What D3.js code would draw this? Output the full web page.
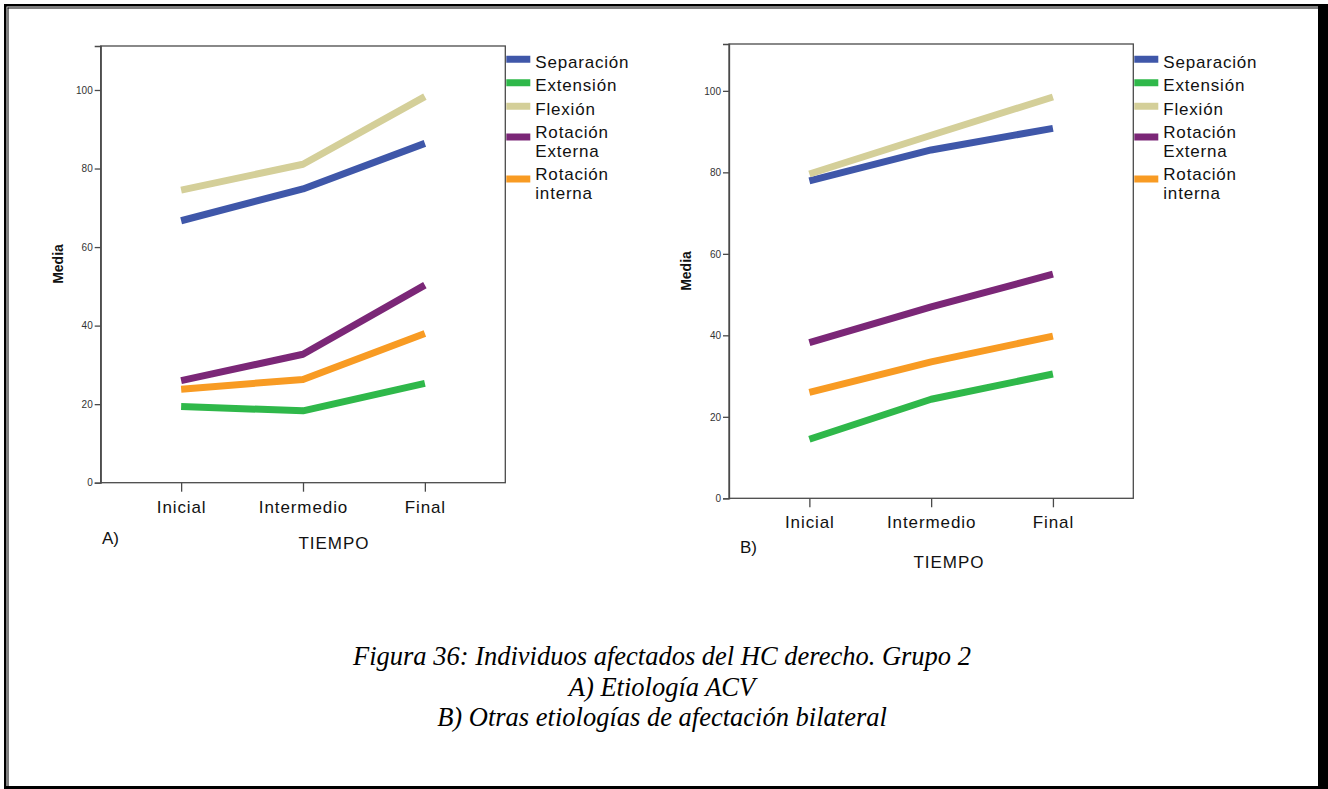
<!DOCTYPE html>
<html>
<head>
<meta charset="utf-8">
<script src="https://cdn.jsdelivr.net/npm/d3@7"></script>
<style>
  html, body { margin: 0; padding: 0; background: #fff; }
  svg { display: block; }
  .tick text { font-family: Arial, "Liberation Sans", sans-serif; }
</style>
</head>
<body>
<svg id="fig" width="1328" height="789"></svg>
<script>
// Time points and measured movements
const tiempos = ["Inicial", "Intermedio", "Final"];
const movimientos = ["Separación", "Extensión", "Flexión", "Rotación Externa", "Rotación interna"];
const colores = ["#3F57A9", "#2FB84A", "#D4CF99", "#7B2777", "#F89B23"];
const yTicks = [0, 20, 40, 60, 80, 100];

// A) Etiología ACV — mean per time point
const acvSeparacion  = [66.7, 74.8, 86.4];
const acvExtension   = [19.4, 18.3, 25.3];
const acvFlexion     = [74.5, 81.1, 98.3];
const acvRotExterna  = [26.0, 32.7, 50.3];
const acvRotInterna  = [23.8, 26.3, 38.0];

// B) Otras etiologías de afectación bilateral — mean per time point
const otrasSeparacion = [77.9, 85.5, 90.8];
const otrasExtension  = [14.5, 24.3, 30.5];
const otrasFlexion    = [79.6, 89.1, 98.5];
const otrasRotExterna = [38.2, 47.0, 55.0];
const otrasRotInterna = [26.0, 33.5, 39.8];

const captionLines = [
  "Figura 36: Individuos afectados del HC derecho. Grupo 2",
  "A) Etiología ACV",
  "B) Otras etiologías de afectación bilateral"
];

const svg = d3.select("#fig");
const SANS = "Arial, 'Liberation Sans', sans-serif";

// page border: double rule on left/top, heavy rule on right, thin at bottom
const border = svg.append("g").attr("fill", "#000");
border.append("rect").attr("x", 4).attr("y", 4).attr("width", 2.5).attr("height", 785);
border.append("rect").attr("x", 7.5).attr("y", 7.5).attr("width", 1).attr("height", 781);
border.append("rect").attr("x", 4).attr("y", 4).attr("width", 1320).attr("height", 2.5);
border.append("rect").attr("x", 7.5).attr("y", 7.5).attr("width", 1312).attr("height", 1);
border.append("rect").attr("x", 1318).attr("y", 4).attr("width", 10).attr("height", 785);
border.append("rect").attr("x", 4).attr("y", 786).attr("width", 1320).attr("height", 3);

function drawPanel(cfg) {
  const g = svg.append("g");
  const x = d3.scalePoint().domain(tiempos).range([cfg.x0, cfg.x1]).padding(0.66);
  const y = d3.scaleLinear().domain([0, cfg.yMax]).range([cfg.yBottom, cfg.yTop]);

  // frame
  g.append("rect")
    .attr("x", cfg.x0).attr("y", cfg.yTop)
    .attr("width", cfg.x1 - cfg.x0).attr("height", cfg.yBottom - cfg.yTop)
    .attr("fill", "none").attr("stroke", "#4a4a4a").attr("stroke-width", 1.3);

  // y axis
  const ya = g.append("g").attr("transform", `translate(${cfg.x0},0)`)
    .call(d3.axisLeft(y).tickValues(yTicks).tickSize(6).tickPadding(2).tickFormat(d3.format("d")));
  ya.select(".domain").attr("stroke", "#4a4a4a").attr("stroke-width", 1.3);
  ya.selectAll(".tick line").attr("stroke", "#4a4a4a").attr("stroke-width", 1.3);
  ya.selectAll(".tick text").attr("font-size", 10).attr("fill", "#333").attr("font-family", SANS);

  // x axis
  const xa = g.append("g").attr("transform", `translate(0,${cfg.yBottom})`)
    .call(d3.axisBottom(x).tickSize(9).tickPadding(9));
  xa.select(".domain").remove();
  xa.selectAll(".tick line").attr("stroke", "#4a4a4a").attr("stroke-width", 1.3);
  xa.selectAll(".tick text").attr("font-size", 17).attr("fill", "#111")
    .attr("font-family", SANS).attr("letter-spacing", "0.9px");

  // axis titles
  g.append("text")
    .attr("transform", `translate(${cfg.mediaX},${cfg.mediaY}) rotate(-90)`)
    .attr("text-anchor", "middle").attr("font-family", SANS)
    .attr("font-weight", "bold").attr("font-size", 14).attr("fill", "#111")
    .text("Media");
  g.append("text")
    .attr("x", cfg.tiempoX).attr("y", cfg.tiempoY)
    .attr("text-anchor", "middle").attr("font-family", SANS)
    .attr("font-size", 17).attr("letter-spacing", "1px").attr("fill", "#111")
    .text("TIEMPO");
  g.append("text")
    .attr("x", cfg.tagX).attr("y", cfg.tagY)
    .attr("font-family", SANS).attr("font-size", 17).attr("fill", "#111")
    .text(cfg.tag);

  // series lines
  const line = d3.line().x((d, i) => x(tiempos[i])).y(d => y(d));
  cfg.series.forEach((vals, i) => {
    g.append("path").datum(vals)
      .attr("d", line)
      .attr("fill", "none")
      .attr("stroke", colores[i])
      .attr("stroke-width", 7)
      .attr("stroke-linejoin", "round");
  });

  // legend
  const lineH = 18.5, gap = 5;
  let cursor = cfg.legendTop;
  const lg = g.append("g");
  movimientos.forEach((name, i) => {
    const parts = name.includes(" ") ? name.split(" ") : [name];
    const h = parts.length * lineH;
    const sw = cursor + h / 2 - (parts.length - 1) * 2;
    lg.append("line")
      .attr("x1", cfg.x1 + 1).attr("x2", cfg.x1 + 25)
      .attr("y1", sw).attr("y2", sw)
      .attr("stroke", colores[i]).attr("stroke-width", 7);
    parts.forEach((p, k) => {
      lg.append("text")
        .attr("x", cfg.x1 + 30)
        .attr("y", cursor + lineH / 2 + 2.5 + k * lineH + 6)
        .attr("font-family", SANS).attr("font-size", 17)
        .attr("letter-spacing", "0.8px").attr("fill", "#111")
        .text(p);
    });
    cursor += h + gap;
  });
}

drawPanel({
  x0: 100.7, x1: 505.3, yTop: 46, yBottom: 482.7, yMax: 111.2,
  series: [acvSeparacion, acvExtension, acvFlexion, acvRotExterna, acvRotInterna],
  mediaX: 63, mediaY: 264, tiempoX: 334, tiempoY: 549,
  tag: "A)", tagX: 102, tagY: 544, legendTop: 50
});

drawPanel({
  x0: 729, x1: 1133.3, yTop: 44, yBottom: 498.3, yMax: 111.5,
  series: [otrasSeparacion, otrasExtension, otrasFlexion, otrasRotExterna, otrasRotInterna],
  mediaX: 691, mediaY: 271, tiempoX: 949, tiempoY: 568,
  tag: "B)", tagX: 740, tagY: 553, legendTop: 50
});

// figure caption
svg.append("g").selectAll("text").data(captionLines).join("text")
  .attr("x", 662)
  .attr("y", (d, i) => 665 + i * 30.5)
  .attr("text-anchor", "middle")
  .attr("font-family", "'Liberation Serif', 'Times New Roman', serif")
  .attr("font-style", "italic")
  .attr("font-size", 26.5)
  .attr("fill", "#000")
  .text(d => d);
</script>
</body>
</html>
